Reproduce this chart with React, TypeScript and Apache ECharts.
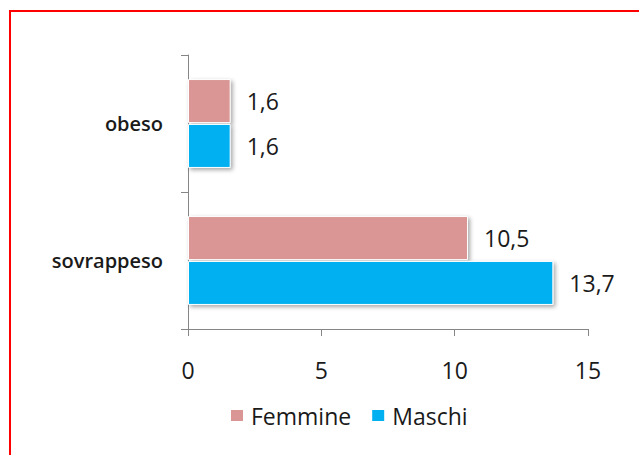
import React, { useEffect, useRef } from "react";
import * as echarts from "echarts";

const categories = ["sovrappeso", "obeso"];
const femmine = [10.5, 1.6];
const maschi = [13.7, 1.6];
const xTicks = { min: 0, max: 15, interval: 5 };

const FONT = "'Open Sans', 'Liberation Sans', sans-serif";

export default function App() {
  const ref = useRef<HTMLDivElement>(null);
  useEffect(() => {
    if (!ref.current) return;
    const chart = echarts.init(ref.current, undefined, { renderer: "svg" });
    const labelCfg = {
      show: true,
      position: "right",
      distance: 16,
      color: "#1a1a1a",
      fontFamily: FONT,
      fontSize: 23,
      formatter: (p: any) => String(p.value).replace(".", ","),
    };
    const itemBase = {
      borderColor: "#ffffff",
      borderWidth: 1,
      shadowColor: "rgba(0,0,0,0.35)",
      shadowBlur: 4,
      shadowOffsetX: 2,
      shadowOffsetY: 2,
    };
    chart.setOption({
      animation: false,
      backgroundColor: "#ffffff",
      grid: { left: 188, right: 51, top: 55, bottom: 126, containLabel: false },
      legend: {
        data: ["Femmine", "Maschi"],
        left: 224,
        top: 399,
        icon: "rect",
        itemWidth: 14,
        itemHeight: 13,
        itemGap: 19,
        textStyle: { fontFamily: FONT, fontSize: 23, color: "#1a1a1a", padding: [0, 0, 0, 2] },
      },
      xAxis: {
        type: "value",
        min: xTicks.min,
        max: xTicks.max,
        interval: xTicks.interval,
        axisLine: { show: true, lineStyle: { color: "#868686", width: 1 } },
        axisTick: { show: true, length: 7, lineStyle: { color: "#868686" } },
        splitLine: { show: false },
        axisLabel: { margin: 29, fontFamily: FONT, fontSize: 23, color: "#1a1a1a" },
      },
      yAxis: {
        type: "category",
        data: categories,
        axisLine: { show: true, lineStyle: { color: "#868686", width: 1 } },
        axisTick: { show: true, length: 7, lineStyle: { color: "#868686" } },
        axisLabel: {
          margin: 25,
          fontFamily: FONT,
          fontSize: 20,
          fontWeight: 600,
          color: "#1a1a1a",
        },
      },
      series: [
        {
          name: "Femmine",
          type: "bar",
          data: femmine,
          barWidth: 44,
          barGap: "2%",
          itemStyle: { ...itemBase, color: "#D99694" },
          label: labelCfg,
        },
        {
          name: "Maschi",
          type: "bar",
          data: maschi,
          barWidth: 44,
          barGap: "2%",
          itemStyle: { ...itemBase, color: "#00B0F0" },
          label: labelCfg,
        },
      ],
      graphic: [
        {
          type: "rect",
          shape: { x: 10, y: 11, width: 660, height: 480 },
          style: { fill: "none", stroke: "#ff0000", lineWidth: 2 },
          silent: true,
        },
      ],
    });
    return () => chart.dispose();
  }, []);
  return (
    <div
      ref={ref}
      style={{ position: "fixed", left: 0, top: 0, width: 639, height: 455, background: "#fff" }}
    />
  );
}
